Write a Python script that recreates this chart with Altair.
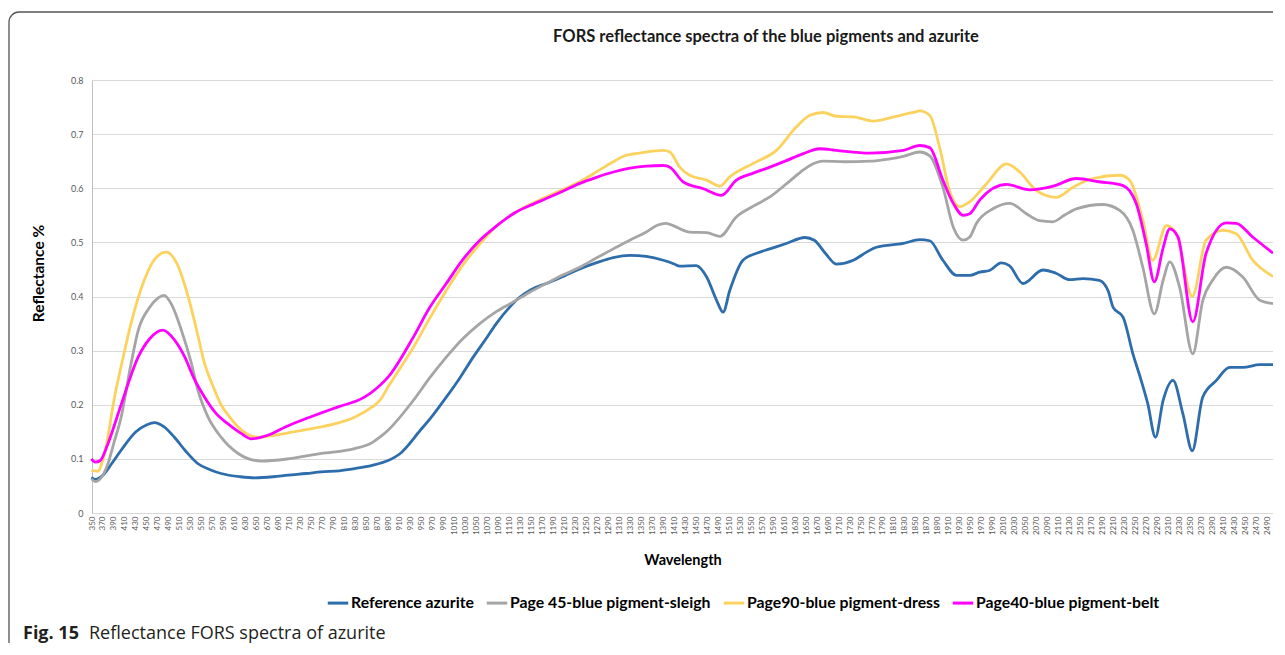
import altair as alt
import pandas as pd

# ---------------- data ----------------
series_names = [
    "Reference azurite",
    "Page 45-blue pigment-sleigh",
    "Page90-blue pigment-dress",
    "Page40-blue pigment-belt",
]
series_colors = ["#2E6DAB", "#A5A5A5", "#FCD25F", "#FF00FF"]

x_tick_labels = list(range(350, 2491, 20))
y_tick_values = [0, 0.1, 0.2, 0.3, 0.4, 0.5, 0.6, 0.7, 0.8]

ref_wl = [349, 356, 370, 385, 403, 430, 450, 464, 480, 500, 520, 543, 565, 585, 620, 646, 680, 707,
          740, 767, 800, 828, 860, 889, 910, 947, 970, 995, 1020, 1044, 1066, 1086, 1110, 1129, 1150,
          1177, 1210, 1238, 1270, 1299, 1329, 1359, 1390, 1410, 1420, 1450, 1469, 1487, 1499, 1511,
          1535, 1560, 1584, 1614, 1648, 1665, 1685, 1705, 1736, 1760, 1778, 1827, 1857, 1875, 1899,
          1924, 1948, 1966, 1984, 2005, 2020, 2045, 2081, 2105, 2130, 2154, 2184, 2200, 2209, 2227,
          2245, 2260, 2272, 2286, 2300, 2318, 2336, 2353, 2372, 2397, 2421, 2445, 2476, 2500]
ref_val = [0.066, 0.062, 0.070, 0.090, 0.116, 0.150, 0.163, 0.167, 0.160, 0.140, 0.115, 0.091, 0.080,
           0.073, 0.067, 0.065, 0.067, 0.070, 0.073, 0.076, 0.078, 0.082, 0.088, 0.097, 0.109, 0.152,
           0.180, 0.214, 0.250, 0.288, 0.320, 0.350, 0.380, 0.399, 0.413, 0.424, 0.438, 0.451, 0.463,
           0.472, 0.476, 0.474, 0.467, 0.460, 0.456, 0.457, 0.436, 0.393, 0.371, 0.411, 0.467, 0.480,
           0.488, 0.498, 0.509, 0.504, 0.480, 0.460, 0.467, 0.482, 0.491, 0.498, 0.505, 0.503, 0.467,
           0.439, 0.439, 0.445, 0.448, 0.462, 0.457, 0.424, 0.449, 0.443, 0.431, 0.433, 0.430, 0.410,
           0.380, 0.362, 0.294, 0.245, 0.202, 0.140, 0.208, 0.245, 0.183, 0.115, 0.214, 0.245, 0.269,
           0.269, 0.274, 0.274]

sleigh_wl = [349, 356, 379, 390, 403, 420, 434, 455, 470, 481, 495, 513, 530, 543, 560, 585, 616, 658,
             707, 767, 828, 860, 874, 889, 935, 965, 995, 1025, 1056, 1086, 1117, 1147, 1177, 1208,
             1238, 1268, 1299, 1329, 1359, 1380, 1395, 1410, 1438, 1469, 1493, 1523, 1554, 1584, 1614,
             1640, 1657, 1681, 1720, 1766, 1800, 1827, 1857, 1875, 1899, 1918, 1936, 1948, 1960, 1990,
             2021, 2051, 2075, 2099, 2120, 2142, 2190, 2221, 2245, 2263, 2284, 2300, 2312, 2330, 2354,
             2372, 2390, 2415, 2445, 2476, 2500]
sleigh_val = [0.063, 0.058, 0.091, 0.130, 0.177, 0.270, 0.337, 0.380, 0.397, 0.402, 0.385, 0.337,
              0.280, 0.226, 0.180, 0.140, 0.110, 0.096, 0.100, 0.110, 0.119, 0.130, 0.140, 0.153,
              0.208, 0.250, 0.288, 0.322, 0.350, 0.372, 0.390, 0.408, 0.424, 0.440, 0.454, 0.471,
              0.488, 0.504, 0.519, 0.532, 0.535, 0.530, 0.519, 0.518, 0.511, 0.547, 0.567, 0.584,
              0.608, 0.630, 0.642, 0.650, 0.649, 0.650, 0.654, 0.659, 0.667, 0.660, 0.602, 0.528,
              0.504, 0.510, 0.535, 0.562, 0.572, 0.553, 0.540, 0.538, 0.550, 0.562, 0.570, 0.559,
              0.522, 0.454, 0.368, 0.430, 0.464, 0.417, 0.294, 0.392, 0.430, 0.454, 0.436, 0.393,
              0.387]

dress_wl = [349, 360, 375, 391, 405, 421, 445, 465, 485, 505, 525, 540, 555, 570, 585, 600, 616, 652,
            680, 707, 767, 800, 828, 860, 874, 889, 935, 965, 995, 1025, 1056, 1086, 1117, 1147, 1177,
            1208, 1238, 1268, 1299, 1320, 1347, 1375, 1390, 1402, 1420, 1438, 1469, 1493, 1511, 1554,
            1596, 1632, 1657, 1681, 1705, 1736, 1772, 1814, 1845, 1857, 1875, 1893, 1911, 1930, 1948,
            1978, 2015, 2039, 2069, 2106, 2136, 2172, 2221, 2239, 2263, 2281, 2306, 2324, 2353, 2378,
            2409, 2433, 2463, 2500]
dress_val = [0.079, 0.077, 0.120, 0.214, 0.280, 0.350, 0.430, 0.470, 0.482, 0.460, 0.400, 0.340,
             0.276, 0.235, 0.200, 0.178, 0.159, 0.140, 0.143, 0.148, 0.159, 0.167, 0.177, 0.196,
             0.208, 0.233, 0.306, 0.360, 0.411, 0.458, 0.497, 0.530, 0.553, 0.570, 0.584, 0.598,
             0.612, 0.630, 0.649, 0.660, 0.665, 0.669, 0.670, 0.667, 0.639, 0.624, 0.615, 0.604,
             0.621, 0.646, 0.670, 0.713, 0.735, 0.740, 0.733, 0.732, 0.724, 0.733, 0.740, 0.743,
             0.735, 0.676, 0.596, 0.566, 0.575, 0.608, 0.645, 0.630, 0.596, 0.583, 0.602, 0.618,
             0.624, 0.615, 0.541, 0.467, 0.531, 0.516, 0.400, 0.504, 0.522, 0.516, 0.467, 0.437]

belt_wl = [349, 356, 365, 379, 403, 434, 455, 479, 500, 519, 535, 555, 575, 597, 620, 640, 676, 700,
           731, 765, 798, 846, 870, 889, 935, 965, 995, 1025, 1056, 1086, 1117, 1147, 1177, 1208,
           1238, 1268, 1299, 1329, 1359, 1390, 1402, 1426, 1463, 1496, 1523, 1554, 1584, 1614, 1645,
           1675, 1705, 1766, 1827, 1857, 1875, 1899, 1918, 1936, 1948, 1966, 2015, 2057, 2100, 2142,
           2184, 2227, 2251, 2269, 2284, 2300, 2312, 2327, 2354, 2378, 2415, 2433, 2463, 2500]
belt_val = [0.100, 0.094, 0.097, 0.128, 0.200, 0.288, 0.322, 0.338, 0.320, 0.288, 0.250, 0.214,
            0.185, 0.165, 0.148, 0.137, 0.146, 0.158, 0.171, 0.184, 0.196, 0.214, 0.232, 0.251,
            0.325, 0.380, 0.424, 0.468, 0.504, 0.530, 0.553, 0.568, 0.581, 0.595, 0.609, 0.620,
            0.630, 0.637, 0.641, 0.642, 0.639, 0.612, 0.599, 0.587, 0.615, 0.628, 0.639, 0.651,
            0.664, 0.673, 0.670, 0.665, 0.670, 0.679, 0.675, 0.615, 0.572, 0.550, 0.553, 0.578,
            0.607, 0.597, 0.604, 0.618, 0.612, 0.605, 0.572, 0.498, 0.427, 0.490, 0.525, 0.510,
            0.353, 0.479, 0.536, 0.535, 0.510, 0.480]

chart_title = "FORS reflectance spectra of the blue pigments and azurite"
caption_bold = "Fig. 15"
caption_text = "Reflectance FORS spectra of azurite"

# ---------------- build table ----------------
frames = []
for name, wl, val in [
    (series_names[0], ref_wl, ref_val),
    (series_names[1], sleigh_wl, sleigh_val),
    (series_names[2], dress_wl, dress_val),
    (series_names[3], belt_wl, belt_val),
]:
    frames.append(pd.DataFrame({"series": name, "wavelength": wl, "value": val}))
df = pd.concat(frames, ignore_index=True)

one = pd.DataFrame({"k": [0]})

color = alt.Color(
    "series:N",
    scale=alt.Scale(domain=series_names, range=series_colors),
    legend=alt.Legend(
        title=None,
        orient="none",
        legendX=234,
        legendY=511,
        direction="horizontal",
        symbolType="stroke",
        symbolStrokeWidth=3,
        symbolSize=420,
        labelFont="Lato",
        labelFontWeight="bold",
        labelFontSize=15.8,
        labelColor="#000000",
        labelLimit=400,
        labelOffset=1,
        columnPadding=6,
    ),
)

x_enc = alt.X(
    "wavelength:Q",
    scale=alt.Scale(domain=[350, 2500], nice=False, zero=False),
    axis=alt.Axis(
        values=x_tick_labels,
        format="d",
        labelAngle=270,
        labelFontSize=8,
        labelFont="Lato",
        labelColor="#595959",
        labelPadding=3,
        labelFlush=False,
        labelOverlap=False,
        ticks=False,
        tickSize=0,
        grid=False,
        domainColor="#D9D9D9",
        title="Wavelength",
        titleFont="Lato",
        titleFontSize=14.5,
        titleFontWeight="bold",
        titleColor="#000000",
        titleY=40,
        titleBaseline="top",
    ),
)
y_enc = alt.Y(
    "value:Q",
    scale=alt.Scale(domain=[0, 0.8], nice=False),
    axis=alt.Axis(
        values=y_tick_values,
        labelExpr="datum.value == 0 ? '0' : format(datum.value, '.1f')",
        labelFontSize=9,
        labelFont="Lato",
        labelColor="#595959",
        labelPadding=9,
        ticks=False,
        tickSize=0,
        grid=True,
        gridColor="#D9D9D9",
        domainColor="#BFBFBF",
        title="Reflectance %",
        titleFont="Lato",
        titleFontSize=15.5,
        titleFontWeight="bold",
        titleColor="#000000",
        titleAngle=270,
        titleX=-46,
        titleY=193,
        titleAlign="center",
        titleBaseline="bottom",
    ),
)

frame = alt.Chart(one).mark_rect(
    fillOpacity=0, stroke="#555555", strokeWidth=1.3, cornerRadius=10
).encode(x=alt.value(-83), x2=alt.value(2000), y=alt.value(-68), y2=alt.value(1000))

line_layers = []
for name in series_names:
    line_layers.append(
        alt.Chart(df)
        .transform_filter(alt.datum.series == name)
        .mark_line(strokeWidth=2.8, interpolate="monotone")
        .encode(x=x_enc, y=y_enc, color=color)
    )

title_mark = alt.Chart(one).mark_text(
    text=chart_title, font="Lato", fontWeight="bold", fontSize=16.5, color="#1a1a1a",
    align="center", baseline="middle",
).encode(x=alt.value(674), y=alt.value(-43))

cap1 = alt.Chart(one).mark_text(
    text=caption_bold, font="Open Sans", fontWeight="bold", fontSize=18, color="#231F20",
    align="left", baseline="alphabetic",
).encode(x=alt.value(-69), y=alt.value(559))

cap2 = alt.Chart(one).mark_text(
    text=caption_text, font="Open Sans", fontSize=18, color="#231F20",
    align="left", baseline="alphabetic",
).encode(x=alt.value(-3), y=alt.value(559))

chart = (
    alt.layer(frame, *line_layers, title_mark, cap1, cap2)
    .properties(
        width=1181,
        height=433,
        autosize=alt.AutoSizeParams(type="none"),
        padding={"left": 84, "top": 72, "right": 0, "bottom": 130},
        background="white",
    )
    .configure_view(strokeWidth=0)
)

chart.save("out.html", embed_options={"renderer": "svg", "actions": False})
